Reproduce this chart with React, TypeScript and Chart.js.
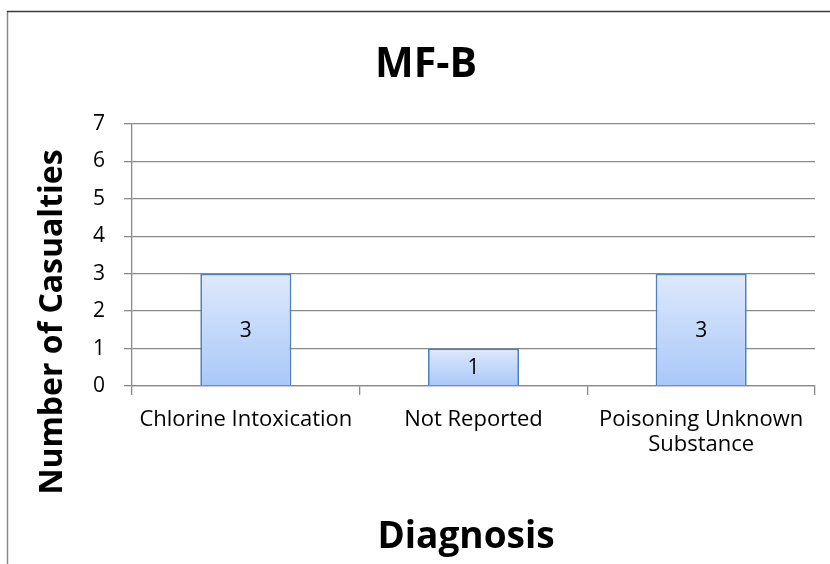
import React, { useEffect, useRef } from "react";
import { Chart, registerables } from "chart.js";

Chart.register(...registerables);

const chartTitle = "MF-B";
const xAxisTitle = "Diagnosis";
const yAxisTitle = "Number of Casualties";
const categories: string[][] = [
  ["Chlorine Intoxication"],
  ["Not Reported"],
  ["Poisoning Unknown", "Substance"],
];
const casualties: number[] = [3, 1, 3];
const yTicks: number[] = [0, 1, 2, 3, 4, 5, 6, 7];

const FONT = "'Open Sans', 'DejaVu Sans', sans-serif";
const GRID = "#8a8a8a";

const framePlugin = {
  id: "frameAndTitles",
  beforeDraw(chart: any) {
    const ctx = chart.ctx;
    ctx.save();
    ctx.fillStyle = "#ffffff";
    ctx.fillRect(0, 0, chart.width, chart.height);
    ctx.lineWidth = 1.5;
    ctx.strokeStyle = "#888888";
    ctx.beginPath();
    ctx.moveTo(7.5, 11);
    ctx.lineTo(7.5, chart.height);
    ctx.stroke();
    ctx.strokeStyle = "#3a3a3a";
    ctx.beginPath();
    ctx.moveTo(7, 11.5);
    ctx.lineTo(chart.width, 11.5);
    ctx.stroke();
    ctx.restore();
  },
  afterDraw(chart: any) {
    const ctx = chart.ctx;
    ctx.save();
    ctx.fillStyle = "#000000";
    ctx.textAlign = "center";
    ctx.textBaseline = "alphabetic";
    ctx.font = `bold 41px ${FONT}`;
    ctx.fillText(chartTitle, 426, 77);
    ctx.font = `bold 37px ${FONT}`;
    ctx.fillText(xAxisTitle, 466, 548);
    ctx.translate(62, 322);
    ctx.rotate(-Math.PI / 2);
    ctx.font = `bold 32px ${FONT}`;
    ctx.fillText(yAxisTitle, 0, 0);
    ctx.restore();
  },
};

const valueLabelPlugin = {
  id: "valueLabels",
  afterDatasetsDraw(chart: any) {
    const ctx = chart.ctx;
    const meta = chart.getDatasetMeta(0);
    ctx.save();
    ctx.fillStyle = "#000000";
    ctx.font = `21px ${FONT}`;
    ctx.textAlign = "center";
    ctx.textBaseline = "middle";
    meta.data.forEach((bar: any, i: number) => {
      const v = chart.data.datasets[0].data[i];
      ctx.fillText(String(v), bar.x, (bar.y + bar.base) / 2 + 1);
    });
    ctx.restore();
  },
};

export default function App() {
  const ref = useRef<HTMLCanvasElement | null>(null);
  useEffect(() => {
    if (!ref.current) return;
    const chart = new Chart(ref.current, {
      type: "bar",
      data: {
        labels: categories,
        datasets: [
          {
            data: casualties,
            backgroundColor: (c: any) => {
              const ch = c.chart;
              const ys = ch.scales && ch.scales.y;
              if (!ys || c.dataIndex === undefined) return "#c4d8fa";
              const top = ys.getPixelForValue(c.raw ?? 0);
              const bottom = ys.getPixelForValue(0);
              if (!isFinite(top) || !isFinite(bottom) || top === bottom) return "#c4d8fa";
              const g = ch.ctx.createLinearGradient(0, top, 0, bottom);
              g.addColorStop(0, "#dee9fc");
              g.addColorStop(1, "#a9c8f8");
              return g;
            },
            borderColor: "#4f81bd",
            borderWidth: 1.8,
            barPercentage: 0.4,
            categoryPercentage: 1,
          },
        ],
      },
      options: {
        responsive: false,
        animation: false,
        layout: { padding: { left: 0, right: 15, top: 124, bottom: 0 } },
        plugins: {
          legend: { display: false },
          title: { display: false },
          tooltip: { enabled: false },
        },
        scales: {
          x: {
            offset: true,
            afterFit: (s: any) => {
              s.height = 178;
            },
            grid: {
              display: true,
              drawOnChartArea: false,
              drawTicks: true,
              tickLength: 9,
              color: GRID,
              lineWidth: 1.3,
              offset: true,
            },
            border: { display: true, color: GRID, width: 1.3 },
            ticks: {
              color: "#000000",
              font: { family: FONT, size: 22, lineHeight: 1.15 },
              padding: 12,
              maxRotation: 0,
              autoSkip: false,
            },
          },
          y: {
            min: 0,
            max: 7,
            afterFit: (s: any) => {
              s.width = 132;
            },
            afterBuildTicks: (s: any) => {
              s.ticks = yTicks.map((v) => ({ value: v }));
            },
            grid: {
              color: GRID,
              lineWidth: 1.3,
              drawTicks: true,
              tickLength: 8,
            },
            border: { display: true, color: GRID, width: 1.3 },
            ticks: {
              color: "#000000",
              font: { family: FONT, size: 21 },
              padding: 19,
              stepSize: 1,
            },
          },
        },
      },
      plugins: [framePlugin, valueLabelPlugin],
    });
    return () => chart.destroy();
  }, []);
  return (
    <div style={{ position: "fixed", left: 0, top: 0, width: 830, height: 564 }}>
      <canvas ref={ref} width={830} height={564} style={{ display: "block" }} />
    </div>
  );
}
